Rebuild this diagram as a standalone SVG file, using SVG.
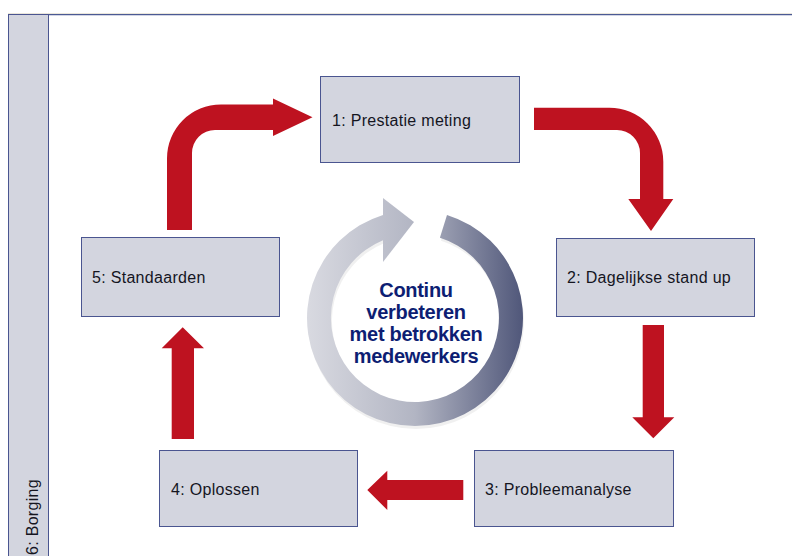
<svg xmlns="http://www.w3.org/2000/svg" width="792" height="556" viewBox="0 0 792 556">
  <style>
    .box { fill: #d3d5df; stroke: #4a5590; stroke-width: 1; }
    .lbl { font-family: "Liberation Sans", Arial, sans-serif; font-size: 16px; fill: #15151f; letter-spacing: 0.3px; }
    .red { fill: #be1220; }
    .center { font-family: "Liberation Sans", Arial, sans-serif; font-size: 20px; font-weight: bold; fill: #0d1e73; letter-spacing: -0.3px; text-anchor: middle; }
  </style>
  <defs>
    <linearGradient id="ringGrad" gradientUnits="userSpaceOnUse" x1="306" y1="0" x2="524" y2="0">
      <stop offset="0" stop-color="#d9dae1"/>
      <stop offset="0.5" stop-color="#b2b5c3"/>
      <stop offset="1" stop-color="#4f5679"/>
    </linearGradient>
  </defs>
  <rect x="0" y="0" width="792" height="556" fill="#ffffff"/>

  <g id="frame">
    <line x1="8" y1="13.6" x2="792" y2="13.6" stroke="#e8e4d8" stroke-width="1"/>
    <line x1="8" y1="14.6" x2="792" y2="14.6" stroke="#4b5a94" stroke-width="1.3"/>
  </g>

  <g id="node6">
    <rect class="box" x="8.5" y="14.5" width="40" height="546"/>
    <text class="lbl" transform="translate(38,555) rotate(-90)">6: Borging</text>
  </g>

  <g id="cycle">
    <path d="M383,214.9 A108,108 0 1 0 447,214.9 L439.9,237.8 A84,84 0 1 1 383,240.3 Z" fill="#000000" opacity="0.06" transform="translate(1,3)"/>
    <path d="M383,214.9 A108,108 0 1 0 447,214.9 L439.9,237.8 A84,84 0 1 1 383,240.3 Z" fill="url(#ringGrad)"/>
    <polygon points="383,198 414,222 383,262" fill="url(#ringGrad)"/>
    <text class="center" x="416" y="296.5">Continu</text>
    <text class="center" x="416" y="318.8">verbeteren</text>
    <text class="center" x="416" y="341.1">met betrokken</text>
    <text class="center" x="416" y="363.4">medewerkers</text>
  </g>

  <g id="node1">
    <rect class="box" x="320.5" y="76.5" width="199" height="86"/>
    <text class="lbl" x="332" y="126">1: Prestatie meting</text>
  </g>
  <g id="node2">
    <rect class="box" x="556.5" y="238.5" width="198" height="78"/>
    <text class="lbl" x="567" y="283">2: Dagelijkse stand up</text>
  </g>
  <g id="node3">
    <rect class="box" x="474.5" y="450.5" width="199" height="76"/>
    <text class="lbl" x="485" y="494.5">3: Probleemanalyse</text>
  </g>
  <g id="node4">
    <rect class="box" x="159.5" y="450.5" width="198" height="76"/>
    <text class="lbl" x="171" y="494.5">4: Oplossen</text>
  </g>
  <g id="node5">
    <rect class="box" x="81.5" y="237.5" width="198" height="79"/>
    <text class="lbl" x="92" y="283">5: Standaarden</text>
  </g>

  <g id="connectors">
    <path class="red" d="M167,230 L167,158.5 A54,54 0 0 1 221,104.5 L273,104.5 L273,98.5 L312.5,117.3 L273,136 L273,130 L215,130 A23,23 0 0 0 192,153 L192,230 Z"/>
    <path class="red" d="M534,107.7 L609.3,107.7 A54,54 0 0 1 663.3,161.7 L663.3,199 L673.3,199 L651,231 L628.3,199 L640,199 L640,153 A23,23 0 0 0 617,130 L534,130 Z"/>
    <path class="red" d="M642.7,325 L664,325 L664,417.3 L674.3,417.3 L653.3,438.3 L632.3,417.3 L642.7,417.3 Z"/>
    <path class="red" d="M463.3,480 L463.3,500 L387.3,500 L387.3,510 L367.3,490 L387.3,470.7 L387.3,480 Z"/>
    <path class="red" d="M171.7,439 L194,439 L194,348.3 L204,348.3 L182.7,327.3 L161.7,348.3 L171.7,348.3 Z"/>
  </g>
</svg>
